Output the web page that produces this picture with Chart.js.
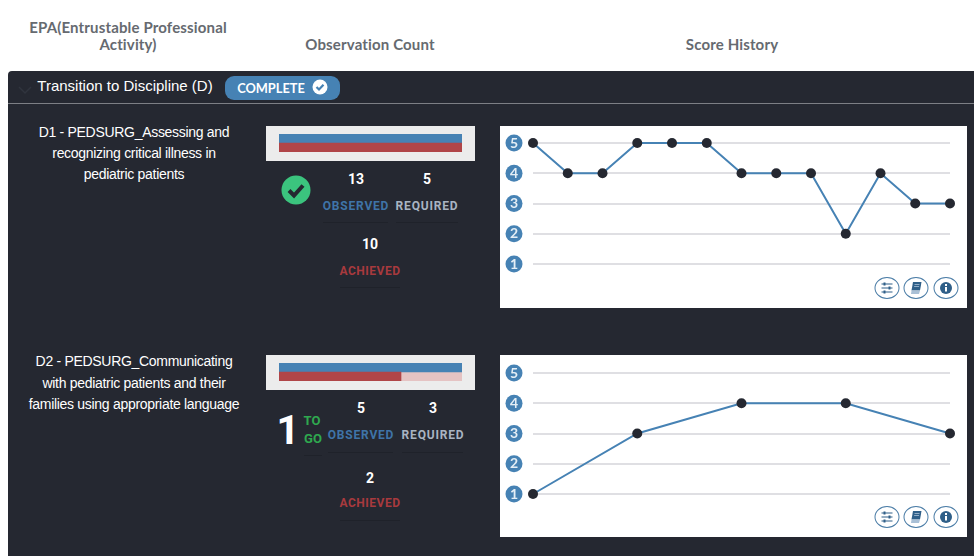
<!DOCTYPE html>
<html>
<head>
<meta charset="utf-8">
<title>Score History</title>
<script src="https://cdn.jsdelivr.net/npm/chart.js@4/dist/chart.umd.min.js"></script>
<style>
    html, body { margin: 0; padding: 0; background: #fff; }
    body { position: relative; width: 974px; height: 556px; overflow: hidden; font-family: Lato, sans-serif; }
    .t { position: absolute; white-space: nowrap; transform: translate(-50%, -50%); line-height: 1; }
    .head { font: bold 15px Lato, sans-serif; letter-spacing: 0.15px; color: #666a70; }
    .name { font: 14px "Liberation Sans", Arial, sans-serif; color: #fff; letter-spacing: -0.3px; }
    .num { font: bold 14px Roboto, sans-serif; color: #fff; }
    .lbl { font: bold 12px Roboto, sans-serif; letter-spacing: 0.8px; }
    .obs { color: #3f74a8; }
    .req { color: #a9b4c2; }
    .ach { color: #a83a3e; letter-spacing: 0.5px; }
    .rule { position: absolute; height: 1px; background: #1f222a; }
    #panel { position: absolute; left: 8px; top: 71px; width: 966px; height: 485px; background: #252831; border-radius: 4px 0 0 0; }
    #divider { position: absolute; left: 8px; top: 103px; width: 966px; height: 1px; background: #7d7f85; }
    #badge { position: absolute; left: 225px; top: 76px; width: 115px; height: 24px; background: #4682b4; border-radius: 9px; }
    .box { position: absolute; }
    .barBox { left: 266px; width: 209px; height: 35px; background: #ececec; }
    .lineBox { left: 500px; width: 467px; height: 182px; background: #fff; }
    .box canvas { display: block; }
    .btn { position: absolute; width: 23px; height: 20px; border: 1px solid #4a7ca6; border-radius: 50%; background: #fff; transform: translate(-50%, -50%); }
    .btn svg { position: absolute; left: 3px; top: 2px; }
</style>
</head>
<body>
<div class="t head" style="left:128px;top:27px">EPA(Entrustable Professional</div>
<div class="t head" style="left:128px;top:44px">Activity)</div>
<div class="t head" style="left:370px;top:44px">Observation Count</div>
<div class="t head" style="left:732px;top:44px">Score History</div>

<div id="panel"></div>
<div id="divider"></div>
<svg style="position:absolute;left:17px;top:84px" width="16" height="12"><path d="M2 3 L8 9 L14 3" fill="none" stroke="#30343e" stroke-width="1.5"/></svg>
<div class="t" style="left:125px;top:85px;font:15px 'Liberation Sans',Arial,sans-serif;color:#fff">Transition to Discipline (D)</div>
<div id="badge"></div>
<div class="t" style="left:271px;top:88px;font:bold 12.8px Lato,sans-serif;color:#fff">COMPLETE</div>
<svg style="position:absolute;left:312px;top:79px" width="16" height="16"><circle cx="8" cy="8" r="7.5" fill="#fff"/><path d="M4.5 8 L7 10.5 L11.5 5.8" fill="none" stroke="#4682b4" stroke-width="2.2"/></svg>

<div class="t name" style="left:134px;top:132px">D1 - PEDSURG_Assessing and</div>
<div class="t name" style="left:134px;top:153px">recognizing critical illness in</div>
<div class="t name" style="left:134px;top:174px">pediatric patients</div>

<div class="box barBox" style="top:126px"><canvas id="d1Bar" width="209" height="35"></canvas></div>
<svg style="position:absolute;left:281px;top:175px" width="30" height="30"><circle cx="15" cy="15" r="14.5" fill="#3bc47e"/><path d="M8 15.5 L13 20.5 L22 10.5" fill="none" stroke="#252831" stroke-width="4"/></svg>
<div class="t num" style="left:356px;top:179px" id="d1ObsNum"></div>
<div class="t num" style="left:427px;top:179px" id="d1ReqNum"></div>
<div class="t lbl obs" style="left:356px;top:206px">OBSERVED</div>
<div class="t lbl req" style="left:427px;top:206px">REQUIRED</div>
<div class="rule" style="left:323px;top:222px;width:65px"></div>
<div class="rule" style="left:396px;top:222px;width:62px"></div>
<div class="t num" style="left:370px;top:244px" id="d1AchNum"></div>
<div class="t lbl ach" style="left:370px;top:271px">ACHIEVED</div>
<div class="rule" style="left:340px;top:287px;width:60px"></div>

<div class="box lineBox" style="top:126px"><canvas id="d1Line" width="467" height="182"></canvas></div>

<div class="t name" style="left:134px;top:361px">D2 - PEDSURG_Communicating</div>
<div class="t name" style="left:134px;top:383px">with pediatric patients and their</div>
<div class="t name" style="left:134px;top:404px">families using appropriate language</div>

<div class="box barBox" style="top:355px"><canvas id="d2Bar" width="209" height="35"></canvas></div>
<div class="t" style="left:288px;top:430px;font:bold 40px Roboto,sans-serif;color:#fff">1</div>
<div class="t" style="left:312px;top:420px;font:bold 13px Roboto,sans-serif;color:#2fa84f">TO</div>
<div class="t" style="left:313px;top:438px;font:bold 13px Roboto,sans-serif;color:#2fa84f">GO</div>
<div class="rule" style="left:304px;top:455px;width:18px"></div>
<div class="t num" style="left:361px;top:408px" id="d2ObsNum"></div>
<div class="t num" style="left:433px;top:408px" id="d2ReqNum"></div>
<div class="t lbl obs" style="left:361px;top:435px">OBSERVED</div>
<div class="t lbl req" style="left:433px;top:435px">REQUIRED</div>
<div class="rule" style="left:328px;top:452px;width:65px"></div>
<div class="rule" style="left:402px;top:452px;width:61px"></div>
<div class="t num" style="left:370px;top:478px" id="d2AchNum"></div>
<div class="t lbl ach" style="left:370px;top:503px">ACHIEVED</div>
<div class="rule" style="left:340px;top:520px;width:60px"></div>

<div class="box lineBox" style="top:355px"><canvas id="d2Line" width="467" height="182"></canvas></div>

<script>
const scoreTicks = ["1", "2", "3", "4", "5"];
const d1Scores = [5, 4, 4, 5, 5, 5, 4, 4, 4, 2, 4, 3, 3];
const d2Scores = [1, 3, 4, 4, 3];
const d1Observed = 13;
const d1Required = 5;
const d1Achieved = 10;
const d2Observed = 5;
const d2Required = 3;
const d2Achieved = 2;

const BLUE = "#4682b4";
const RED = "#b04548";
const PALE_RED = "#e5c3c3";
const DARK = "#252831";

// numbered circles behind the y ticks
const tickBadges = {
    id: "tickBadges",
    beforeDraw(chart) {
        const ctx = chart.ctx;
        const yScale = chart.scales.y;
        ctx.save();
        ctx.fillStyle = BLUE;
        yScale.ticks.forEach(tick => {
            ctx.beginPath();
            ctx.arc(14, yScale.getPixelForValue(tick.value), 8.5, 0, Math.PI * 2);
            ctx.fill();
        });
        ctx.restore();
    }
};

function drawScoreChart(id, scores, topPad, bottomPad) {
    new Chart(document.getElementById(id).getContext("2d"), {
        type: "line",
        data: {
            labels: scores.map((s, i) => String(i + 1)),
            datasets: [{
                data: scores,
                borderColor: BLUE,
                borderWidth: 2,
                tension: 0,
                pointRadius: 5,
                pointBackgroundColor: DARK,
                pointBorderColor: DARK,
                pointBorderWidth: 0,
                clip: false
            }]
        },
        options: {
            responsive: false,
            animation: false,
            layout: { padding: { top: topPad, right: 17, bottom: bottomPad, left: 10 } },
            plugins: { legend: { display: false }, tooltip: { enabled: false } },
            scales: {
                x: { display: false, offset: false },
                y: {
                    min: 1,
                    max: 5,
                    afterFit(scale) { scale.width = 23; },
                    border: { display: false },
                    grid: { color: "#dfdfe3", lineWidth: 2, drawTicks: false },
                    ticks: {
                        stepSize: 1,
                        // tick padding also eats into the plot height, so pin labels to the far edge instead
                        padding: 0,
                        crossAlign: "far",
                        color: "#e4eef6",
                        font: { family: "Lato", size: 14, weight: "bold" },
                        callback: value => scoreTicks[value - 1]
                    }
                }
            }
        },
        plugins: [tickBadges]
    });
}

function drawCountChart(id, observed, required, achieved) {
    new Chart(document.getElementById(id).getContext("2d"), {
        type: "bar",
        data: {
            labels: ["Observed", "Achieved"],
            datasets: [
                { data: [observed, achieved], backgroundColor: [BLUE, RED] },
                { data: [0, Math.max(required - achieved, 0)], backgroundColor: PALE_RED }
            ]
        },
        options: {
            indexAxis: "y",
            responsive: false,
            animation: false,
            layout: { padding: { top: 8, right: 13, bottom: 9, left: 13 } },
            plugins: { legend: { display: false }, tooltip: { enabled: false } },
            datasets: { bar: { barPercentage: 1, categoryPercentage: 1 } },
            scales: {
                x: { display: false, stacked: true, min: 0, max: required },
                y: { display: false, stacked: true }
            }
        }
    });
}

const sliderIcon = '<svg width="17" height="16" viewBox="0 0 17 16"><path d="M3 4H14M3 8H14M3 12H14" stroke="#2f5f88" stroke-width="1.2"/><path d="M6 2.5V5.5M11 6.5V9.5M6 10.5V13.5" stroke="#2f5f88" stroke-width="2"/></svg>';
const bookIcon = '<svg width="17" height="16" viewBox="0 0 17 16"><path d="M5.5 2H14L12.5 10.5H4Z" fill="#2f5f88"/><path d="M4 10.5L3.5 14H11.5L12.5 10.5" fill="#a9c0d6"/><path d="M7 4.5H12M6.6 6.5H11.6" stroke="#a9c0d6" stroke-width="0.8"/></svg>';
const infoIcon = '<svg width="17" height="16" viewBox="0 0 17 16"><circle cx="8.5" cy="8" r="6" fill="#2f5f88"/><rect x="7.5" y="7" width="2" height="4.5" fill="#fff"/><rect x="7.5" y="4" width="2" height="2" fill="#fff"/></svg>';

function addButtons(y) {
    [[887, sliderIcon], [916, bookIcon], [946, infoIcon]].forEach(([x, icon]) => {
        const btn = document.createElement("div");
        btn.className = "btn";
        btn.style.left = x + "px";
        btn.style.top = y + "px";
        btn.innerHTML = icon;
        document.body.appendChild(btn);
    });
}

document.getElementById("d1ObsNum").textContent = d1Observed;
document.getElementById("d1ReqNum").textContent = d1Required;
document.getElementById("d1AchNum").textContent = d1Achieved;
document.getElementById("d2ObsNum").textContent = d2Observed;
document.getElementById("d2ReqNum").textContent = d2Required;
document.getElementById("d2AchNum").textContent = d2Achieved;

drawScoreChart("d1Line", d1Scores, 17, 44);
drawScoreChart("d2Line", d2Scores, 18, 43);
drawCountChart("d1Bar", d1Observed, d1Required, d1Achieved);
drawCountChart("d2Bar", d2Observed, d2Required, d2Achieved);
addButtons(288);
addButtons(517);
</script>
</body>
</html>
